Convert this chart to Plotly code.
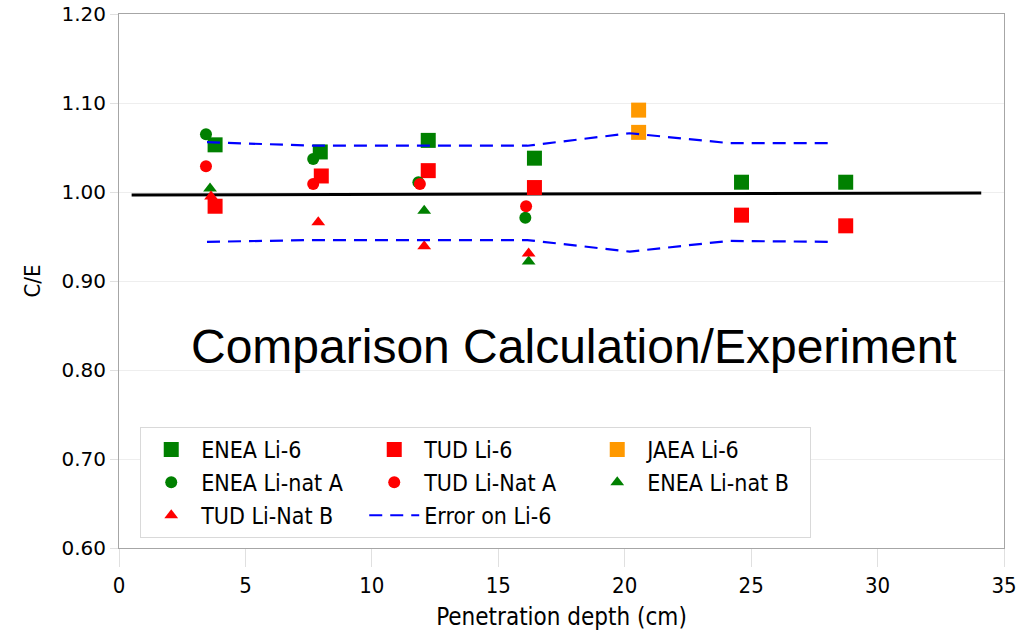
import plotly.graph_objects as go

# ---- data ----
enea_li6_x = [3.8, 7.96, 12.23, 16.43, 24.62, 28.74]
enea_li6_y = [1.053, 1.045, 1.058, 1.038, 1.011, 1.011]

tud_li6_x = [3.8, 8.0, 12.23, 16.43, 24.62, 28.74]
tud_li6_y = [0.984, 1.018, 1.024, 1.005, 0.974, 0.962]

jaea_li6_x = [20.55, 20.55]
jaea_li6_y = [1.092, 1.067]

enea_natA_x = [3.44, 7.68, 11.84, 16.07]
enea_natA_y = [1.065, 1.037, 1.011, 0.971]

tud_natA_x = [3.44, 7.68, 11.9, 16.1]
tud_natA_y = [1.029, 1.009, 1.009, 0.984]

enea_natB_x = [3.6, 12.07, 16.2]
enea_natB_y = [1.004, 0.979, 0.922]

tud_natB_x = [3.64, 7.88, 12.07, 16.2]
tud_natB_y = [0.995, 0.966, 0.939, 0.931]

err_x = [3.48, 7.68, 12.0, 16.15, 20.2, 24.1, 28.27]
err_upper = [1.056, 1.052, 1.052, 1.052, 1.066, 1.055, 1.055]
err_lower = [0.944, 0.946, 0.946, 0.946, 0.933, 0.945, 0.944]

ref_x = [0.5, 34.1]
ref_y = [0.9966, 0.999]

x_ticks = [0, 5, 10, 15, 20, 25, 30, 35]
y_ticks = [0.60, 0.70, 0.80, 0.90, 1.00, 1.10, 1.20]

GREEN = "#008000"
RED = "#ff0000"
ORANGE = "#ff9900"
BLUE = "#0000ff"
COND = "DejaVu Sans Condensed, DejaVu Sans"

fig = go.Figure()

fig.add_trace(go.Scatter(x=ref_x, y=ref_y, mode="lines",
                         line=dict(color="black", width=3), showlegend=False, hoverinfo="skip"))

def pts(x, y, name, color, symbol, size):
    fig.add_trace(go.Scatter(x=x, y=y, mode="markers", name=name,
                             marker=dict(color=color, symbol=symbol, size=size)))

pts(enea_li6_x, enea_li6_y, "ENEA Li-6", GREEN, "square", 15)
pts(tud_li6_x, tud_li6_y, "TUD Li-6", RED, "square", 15)
pts(jaea_li6_x, jaea_li6_y, "JAEA Li-6", ORANGE, "square", 15)
pts(enea_natA_x, enea_natA_y, "ENEA Li-nat A", GREEN, "circle", 12)
pts(tud_natA_x, tud_natA_y, "TUD Li-Nat A", RED, "circle", 12)
pts(enea_natB_x, enea_natB_y, "ENEA Li-nat B", GREEN, "triangle-up", 12)
pts(tud_natB_x, tud_natB_y, "TUD Li-Nat B", RED, "triangle-up", 12)

fig.add_trace(go.Scatter(x=err_x + [None] + err_x, y=err_upper + [None] + err_lower,
                         mode="lines", name="Error on Li-6", connectgaps=False,
                         line=dict(color=BLUE, width=2.2, dash="13px,8px")))

fig.add_annotation(text="Comparison Calculation/Experiment", x=18.0, y=0.826,
                   xref="x", yref="y", showarrow=False,
                   font=dict(family="Liberation Sans, Arial", size=48, color="black"))

fig.update_layout(
    width=1027, height=633,
    margin=dict(l=119, r=23, t=14, b=85),
    paper_bgcolor="white", plot_bgcolor="white",
    font=dict(family="DejaVu Sans", size=20, color="black"),
    xaxis=dict(range=[0, 35], tickvals=x_ticks, ticktext=[str(v) for v in x_ticks],
               automargin=False,
               showline=True, linecolor="#a6a6a6", linewidth=1, mirror=True,
               ticks="outside", ticklen=18, tickcolor="#e0e0e0",
               tickfont=dict(family=COND, size=22),
               showgrid=False, zeroline=False,
               title=dict(text="Penetration depth (cm)", standoff=10,
                          font=dict(family=COND, size=24))),
    yaxis=dict(range=[0.6, 1.2], tickvals=y_ticks, ticktext=[f"{v:.2f}" for v in y_ticks],
               automargin=False,
               showline=True, linecolor="#a6a6a6", linewidth=1, mirror=True,
               ticks="outside", ticklen=8, tickcolor="#e0e0e0",
               tickfont=dict(family="DejaVu Sans", size=20),
               showgrid=True, gridcolor="#eeeeee", zeroline=False,
               title=dict(text="C/E", standoff=14, font=dict(family=COND, size=22))),
    legend=dict(orientation="h", x=0.024, y=0.2266, xanchor="left", yanchor="top",
                bgcolor="white", bordercolor="#d9d9d9", borderwidth=1,
                itemwidth=50, entrywidth=158, font=dict(family=COND, size=23)),
)

fig.write_html("out.html")
